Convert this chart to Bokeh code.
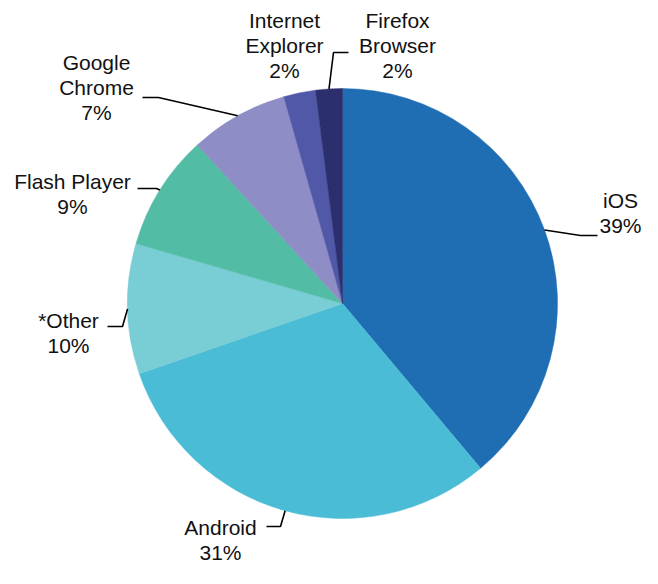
import math
import numpy as np
from bokeh.plotting import figure
from bokeh.models import Range1d
from bokeh.core.properties import value
from bokeh.embed import file_html
from bokeh.resources import INLINE

# ---- data ----
categories = ["iOS", "Android", "*Other", "Flash Player", "Google Chrome",
              "Internet Explorer", "Firefox Browser"]
shares = [38.9, 30.8, 9.8, 8.7, 7.4, 2.4, 2.0]
label_lines = [["iOS"], ["Android"], ["*Other"], ["Flash Player"],
               ["Google", "Chrome"], ["Internet", "Explorer"], ["Firefox", "Browser"]]
colors = ["#1f6db3", "#4bbcd6", "#79cdd4", "#52bca4", "#8e8dc6", "#5158a8", "#2c2f6d"]

# ---- layout (pixel coords from top-left; y converted below) ----
PW, PH = 642, 568
cx, cy, R = 342, 303, 215
# text anchor: (center x, first line center y)
label_pos = [(620, 200), (220, 527), (68, 320), (72, 181), (96, 62), (284, 20), (397, 20)]
# leader elbows (list of points after the edge point); None = no leader
elbows = [[(580, 235), (597, 235)],
          [(280, 526), (266, 526)],
          [(122, 326), (107, 326)],
          [(156, 188), (137, 188)],
          [(158, 97), (142, 97)],
          None,
          [(333, 52), (348, 52)]]
LH = 25

def Y(y):
    return PH - y

p = figure(width=PW, height=PH, output_backend="svg", toolbar_location=None,
           x_range=Range1d(0, PW), y_range=Range1d(0, PH))
p.axis.visible = False
p.grid.visible = False
p.outline_line_color = None
p.min_border = 0

total = float(sum(shares))
frac = np.array(shares) / total
cum = np.concatenate([[0], np.cumsum(frac)])
start_angles = math.pi / 2 - 2 * math.pi * cum[1:]
end_angles = math.pi / 2 - 2 * math.pi * cum[:-1]

p.wedge(x=[cx] * len(shares), y=[Y(cy)] * len(shares), radius=R,
        start_angle=start_angles, end_angle=end_angles,
        fill_color=colors, line_color=colors, line_width=0.5)

for i, name in enumerate(categories):
    mid = 2 * math.pi * (cum[i] + cum[i + 1]) / 2
    ex = cx + R * math.sin(mid)
    ey = cy - R * math.cos(mid)
    if elbows[i] is not None:
        xs = [ex] + [pt[0] for pt in elbows[i]]
        ys = [Y(ey)] + [Y(pt[1]) for pt in elbows[i]]
        p.line(xs, ys, line_color="black", line_width=1.6)
    lx, ly = label_pos[i]
    lines = label_lines[i] + ["%d%%" % round(shares[i])]
    for k, t in enumerate(lines):
        p.text(x=[lx], y=[Y(ly + k * LH)], text=[t], text_align="center",
               text_baseline="middle", text_font=value("Liberation Sans"),
               text_font_size="21px", text_color="#111111")

open("out.html", "w").write(file_html(p, INLINE))
